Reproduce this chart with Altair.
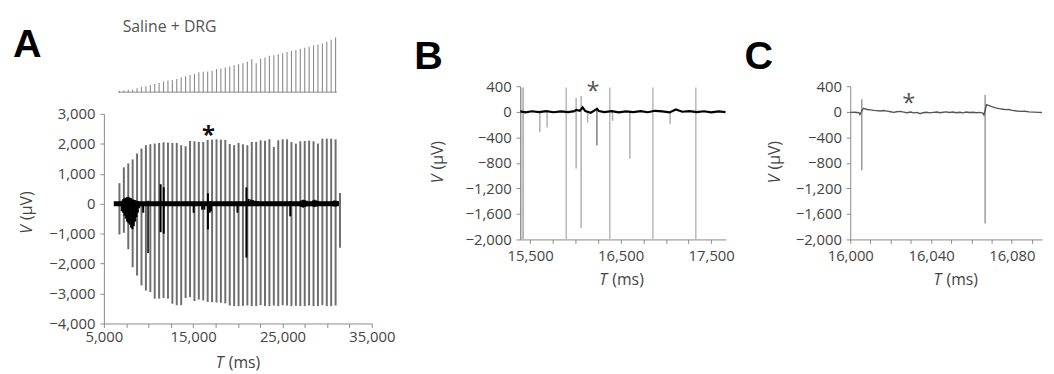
import altair as alt
import pandas as pd

FONT = "Open Sans"
LBL = "#444444"

# ---------------- Panel A : full recording ----------------
A_T = [6740, 7235, 7730, 8220, 8715, 9210, 9705, 10200, 10690, 11185,
       11680, 12175, 12670, 13160, 13655, 14150, 14645, 15140, 15630, 16125,
       16620, 17115, 17610, 18100, 18595, 19090, 19585, 20080, 20570, 21065,
       21560, 22055, 22550, 23040, 23535, 24030, 24525, 25020, 25510, 26005,
       26500, 26995, 27490, 27980, 28475, 28970, 29465, 29960, 30450, 30945,
       31440]
A_TOP = [686, 1215, 1347, 1479, 1678, 1843, 1953, 1986, 2008, 2030,
         2052, 2041, 2030, 2030, 1953, 1920, 2096, 2085, 2063, 2063,
         2129, 2140, 2151, 2140, 2129, 1997, 1953, 2030, 1986, 1953,
         2063, 2063, 2118, 2107, 2151, 1898, 2118, 2151, 2151, 2063,
         2008, 2085, 2096, 2107, 2085, 2008, 2173, 2173, 2173, 2151,
         355]
A_BOT = [-1030, -970, -1520, -2120, -2400, -2730, -2900, -2950, -3170, -3170,
         -3150, -3170, -3340, -3390, -3390, -3150, -3120, -3250, -3200, -3230,
         -3280, -3290, -3300, -3310, -3330, -3400, -3420, -3420, -3410, -3400,
         -3420, -3420, -3390, -3420, -3420, -3400, -3420, -3390, -3400, -3420,
         -3410, -3420, -3420, -3400, -3420, -3420, -3390, -3420, -3420, -3400,
         -1470]
# stimulus strip heights (first 50 pulses)
A_STIM = [1.3, 1.7, 2.3, 2.7, 4.0, 5.3, 6.0, 7.3, 8.3, 9.3,
          10.7, 11.7, 12.3, 13.3, 15.0, 16.0, 17.3, 18.3, 20.0, 20.7,
          21.0, 21.7, 23.3, 24.0, 25.0, 26.0, 27.3, 28.3, 29.3, 30.7,
          33.3, 29.3, 34.0, 35.0, 36.7, 37.3, 38.3, 39.3, 40.7, 41.7,
          42.7, 44.0, 45.0, 46.0, 47.3, 48.3, 49.3, 51.0, 53.0, 55.3]
A_STIM_SPAN = [6600, 31100]
A_TRACE_SPAN = [6110, 31310]
A_BURST_T = [7000, 7150, 7300, 7450, 7600, 7750, 7900, 8050, 8200, 8350, 8500, 8650, 8800, 8950,
             9400, 11350, 11700, 15050, 16000, 16250, 16650, 16850, 17000, 19960, 20960,
             21200, 21450, 21700, 21950, 22200, 25870, 27100, 27300, 27500, 27700,
             28400, 28600, 28800, 29000, 30600, 30800, 31000, 31200]
A_BURST_TOP = [100, 150, 180, 200, 220, 230, 200, 180, 150, 130, 120, 100, 80, 60,
               50, 650, 550, 50, 40, 40, 350, 80, 60, 50, 546,
               160, 140, 120, 100, 90, 80, 110, 130, 120, 100,
               110, 130, 110, 90, 90, 110, 100, 80]
A_BURST_BOT = [-250, -300, -400, -500, -600, -650, -700, -800, -850, -750, -600, -450, -300, -150,
               -300, -950, -1000, -300, -200, -200, -860, -300, -250, -300, -1800,
               -80, -60, -60, -50, -40, -420, -110, -130, -110, -90,
               -90, -110, -90, -80, -80, -90, -90, -70]
A_DARK_T = [9950]
A_DARK_TOP = [100]
A_DARK_BOT = [-1650]
A_STAR_T = [16714]
A_STAR_V = [2449]
A_XTICKS = [5000, 7500, 10000, 12500, 15000, 17500, 20000, 22500, 25000, 27500, 30000, 32500, 35000]
A_YTICKS = [-4000, -3000, -2000, -1000, 0, 1000, 2000, 3000]

# ---------------- Panel B : 15.4-17.7 s ----------------
B_FULL_T = [15412, 15426, 15900, 16380, 16856, 17330]
B_FULL_TOP = [380, 380, 380, 380, 380, 380]
B_FULL_BOT = [-2000, -2000, -2000, -2000, -2000, -2000]
B_SPIKE_T = [15608, 15688, 16009, 16064, 16136, 16410, 16602, 17046]
B_SPIKE_TOP = [0, 0, 219, 245, 0, 0, 0, 0]
B_SPIKE_BOT = [-323, -245, -890, -1820, -168, -142, -735, -190]
B_DARK_T = [16238]
B_DARK_TOP = [65]
B_DARK_BOT = [-530]
B_TR_T = [15392, 15450, 15520, 15600, 15680, 15760, 15840, 15920, 15990, 16010,
          16050, 16080, 16110, 16170, 16240, 16260, 16320, 16400, 16480, 16560,
          16640, 16720, 16800, 16880, 16960, 17040, 17110, 17180, 17260, 17340,
          17420, 17500, 17580, 17658]
B_TR_V = [5, -10, 8, -5, 10, -8, 5, -5, 10, 30,
          15, 70, 10, -15, 45, 10, -5, 10, -10, 5,
          -5, 10, -8, 15, 5, -10, 35, 0, 10, -5,
          8, -10, 5, -5]
B_STAR_T = [16195]
B_STAR_V = [400]
B_XTICKS = [15500, 15750, 16000, 16250, 16500, 16750, 17000, 17250, 17500]
BC_YTICKS = [-2000, -1600, -1200, -800, -400, 0, 400]

# ---------------- Panel C : 16.000-16.095 s ----------------
C_TR_T = [16000, 16002, 16004.3, 16004.8, 16006.5, 16008.4, 16010, 16011.7, 16013, 16015,
          16016.5, 16018.2, 16020, 16021.5, 16023, 16024.8, 16026.5, 16028, 16030, 16031.3,
          16033, 16034.6, 16036, 16037.8, 16039.5, 16041.1, 16043, 16044.4, 16046, 16047.6,
          16049, 16050.9, 16052.5, 16054.2, 16056, 16057.4, 16059, 16060.7, 16062.5, 16064,
          16065.6, 16066.2, 16067.5, 16068.5, 16070.5, 16072, 16073.8, 16075.5, 16077, 16078.5,
          16080.3, 16082.5, 16084.4, 16086.5, 16088.5, 16091, 16093.4, 16095]
C_TR_V = [-10, -8, -15, -45, 55, 35, 30, 22, 18, 12,
          20, 10, 0, -10, 0, 5, -5, -15, -5, -18,
          -10, -30, -15, -8, -18, -10, -5, -15, -8, -2,
          -12, -5, -15, -8, -18, -5, -12, -8, -15, -10,
          -20, -50, 110, 100, 75, 60, 48, 40, 33, 35,
          22, 12, 5, 8, -2, -5, -10, -12]
C_SPIKE_T = [16005.7, 16066.8]
C_SPIKE_TOP = [194, 261]
C_SPIKE_BOT = [-916, -1752]
C_STAR_T = [16029]
C_STAR_V = [220]
C_XTICKS = [16000, 16010, 16020, 16030, 16040, 16050, 16060, 16070, 16080, 16090]


# ---------------- helpers ----------------
def note(text, x, y, size=16, color=LBL, weight="normal", style="normal",
         angle=0, align="left", baseline="alphabetic", font=FONT):
    return alt.Chart(alt.Data(values=[{}])).mark_text(
        text=text, font=font, fontSize=size, color=color, fontWeight=weight,
        fontStyle=style, angle=angle, align=align, baseline=baseline
    ).encode(x=alt.value(x), y=alt.value(y))


def ytitle(xc, yc, size=16):
    wv, gap = 0.6 * size, 0.27 * size
    total = wv + gap + 1.78 * size
    y0 = yc + total / 2
    return [note("V", xc, y0, size, style="italic", angle=270, baseline="middle"),
            note("(μV)", xc, y0 - wv - gap, size, angle=270, baseline="middle")]


def xtitle(xc, yb, size=16):
    wt, gap = 0.55 * size, 0.27 * size
    total = wt + gap + 2.03 * size
    x0 = xc - total / 2
    return [note("T", x0, yb, size, style="italic"),
            note("(ms)", x0 + wt + gap, yb, size)]


def xaxis(values, expr, pad=2):
    return alt.Axis(values=values, labelExpr=expr, title=None, labelFlush=False,
                    labelOverlap=False, labelPadding=pad, tickSize=4)


def yaxis(values, pad=5):
    return alt.Axis(values=values, format=",.0f", title=None, labelPadding=pad,
                    tickSize=4, labelOverlap=False)


# ---------------- Panel A ----------------
axA_x = xaxis(A_XTICKS, "datum.value % 10000 == 5000 ? format(datum.value, ',') : ''", 2)
axA_y = yaxis(A_YTICKS)
scA_x = alt.Scale(domain=[5000, 35000], range=[0, 271], nice=False, zero=False)
scA_y = alt.Scale(domain=[-4000, 3000], range=[290, 78], nice=False, zero=False)


def xA(f):
    return alt.X(f"{f}:Q", scale=scA_x, axis=axA_x)


def yA(f):
    return alt.Y(f"{f}:Q", scale=scA_y, axis=axA_y)


dfA = pd.DataFrame({"t": A_T, "top": A_TOP, "bot": A_BOT})
dfA_b = pd.DataFrame({"t": A_BURST_T, "top": A_BURST_TOP, "bot": A_BURST_BOT})
dfA_d = pd.DataFrame({"t": A_DARK_T, "top": A_DARK_TOP, "bot": A_DARK_BOT})
dfA_base = pd.DataFrame({"t": [A_TRACE_SPAN[0]], "t2": [A_TRACE_SPAN[1]], "v": [0]})
dfA_star = pd.DataFrame({"t": A_STAR_T, "v": A_STAR_V})
dfA_stim = pd.DataFrame({"t": A_T[:50], "h": A_STIM})
dfA_stim_base = pd.DataFrame({"t": [A_STIM_SPAN[0]], "t2": [A_STIM_SPAN[1]], "h": [0]})

barsA = alt.Chart(dfA).mark_rule(color="#6e6e6e", strokeWidth=2).encode(
    x=xA("t"), y=yA("top"), y2="bot")
baseA = alt.Chart(dfA_base).mark_rule(color="#000000", strokeWidth=5).encode(
    x=xA("t"), x2="t2", y=yA("v"))
darkA = alt.Chart(dfA_d).mark_rule(color="#333333", strokeWidth=2).encode(
    x=xA("t"), y=yA("top"), y2="bot")
burstA = alt.Chart(dfA_b).mark_rule(color="#000000", strokeWidth=2).encode(
    x=xA("t"), y=yA("top"), y2="bot")
starA = alt.Chart(dfA_star).mark_text(text="*", font=FONT, fontSize=24, fontWeight="bold",
                                      color="#111111", baseline="middle", dy=6).encode(
    x=xA("t"), y=yA("v"))
mainA = alt.layer(barsA, darkA, baseA, burstA, starA)

scS_y = alt.Scale(domain=[0, 56], range=[56, 0], nice=False, zero=False)
stimA = alt.Chart(dfA_stim).mark_rule(color="#8a8a8a", strokeWidth=1.1).encode(
    x=xA("t"), y=alt.Y("h:Q", scale=scS_y, axis=None), y2=alt.datum(0))
stimBase = alt.Chart(dfA_stim_base).mark_rule(color="#8a8a8a", strokeWidth=1).encode(
    x=xA("t"), x2="t2", y=alt.Y("h:Q", scale=scS_y, axis=None))
stripA = alt.layer(stimA, stimBase)

panelA = alt.layer(
    mainA, stripA,
    note("A", -92, 20, 40, color="#000000", weight="bold", font="Liberation Sans"),
    note("Saline + DRG", 19, -5, 16, color="#555555"),
    *ytitle(-78, 178), *xtitle(136, 335)
).resolve_scale(y="independent").properties(width=295, height=290)

# ---------------- Panel B ----------------
axB_x = xaxis(B_XTICKS, "(datum.value - 15500) % 1000 == 0 ? format(datum.value, ',') : ''", 5)
axB_y = yaxis(BC_YTICKS)
scB_x = alt.Scale(domain=[15390, 17660], nice=False, zero=False)
scB_y = alt.Scale(domain=[-2000, 400], range=[205, 50], nice=False, zero=False)


def xB(f):
    return alt.X(f"{f}:Q", scale=scB_x, axis=axB_x)


def yB(f):
    return alt.Y(f"{f}:Q", scale=scB_y, axis=axB_y)


dfB_full = pd.DataFrame({"t": B_FULL_T, "top": B_FULL_TOP, "bot": B_FULL_BOT})
dfB_sp = pd.DataFrame({"t": B_SPIKE_T, "top": B_SPIKE_TOP, "bot": B_SPIKE_BOT})
dfB_dk = pd.DataFrame({"t": B_DARK_T, "top": B_DARK_TOP, "bot": B_DARK_BOT})
dfB_tr = pd.DataFrame({"t": B_TR_T, "v": B_TR_V})
dfB_star = pd.DataFrame({"t": B_STAR_T, "v": B_STAR_V})

panelB = alt.layer(
    alt.Chart(dfB_full).mark_rule(color="#b8b8b8", strokeWidth=1.5).encode(
        x=xB("t"), y=yB("top"), y2="bot"),
    alt.Chart(dfB_sp).mark_rule(color="#b0b0b0", strokeWidth=1.5).encode(
        x=xB("t"), y=yB("top"), y2="bot"),
    alt.Chart(dfB_dk).mark_rule(color="#808080", strokeWidth=1.5).encode(
        x=xB("t"), y=yB("top"), y2="bot"),
    alt.Chart(dfB_tr).mark_line(color="#000000", strokeWidth=2.2).encode(
        x=xB("t"), y=yB("v")),
    alt.Chart(dfB_star).mark_text(text="*", font=FONT, fontSize=24, color="#555555",
                                  baseline="middle", dy=6).encode(x=xB("t"), y=yB("v")),
    note("B", -107, 33, 40, color="#000000", weight="bold", font="Liberation Sans"),
    *ytitle(-82.5, 127), *xtitle(103, 251)
).properties(width=208, height=205)

# ---------------- Panel C ----------------
axC_x = xaxis(C_XTICKS, "(datum.value - 16000) % 40 == 0 ? format(datum.value, ',') : ''", 5)
axC_y = yaxis(BC_YTICKS)
scC_x = alt.Scale(domain=[16000, 16095], nice=False, zero=False)
scC_y = alt.Scale(domain=[-2000, 400], range=[205, 50], nice=False, zero=False)


def xC(f):
    return alt.X(f"{f}:Q", scale=scC_x, axis=axC_x)


def yC(f):
    return alt.Y(f"{f}:Q", scale=scC_y, axis=axC_y)


dfC_tr = pd.DataFrame({"t": C_TR_T, "v": C_TR_V})
dfC_sp = pd.DataFrame({"t": C_SPIKE_T, "top": C_SPIKE_TOP, "bot": C_SPIKE_BOT})
dfC_star = pd.DataFrame({"t": C_STAR_T, "v": C_STAR_V})

panelC = alt.layer(
    alt.Chart(dfC_sp).mark_rule(color="#9a9a9a", strokeWidth=1.5).encode(
        x=xC("t"), y=yC("top"), y2="bot"),
    alt.Chart(dfC_tr).mark_line(color="#555555", strokeWidth=1.4).encode(
        x=xC("t"), y=yC("v")),
    alt.Chart(dfC_star).mark_text(text="*", font=FONT, fontSize=24, color="#555555",
                                  baseline="middle", dy=6).encode(x=xC("t"), y=yC("v")),
    note("C", -107, 33, 40, color="#000000", weight="bold", font="Liberation Sans"),
    *ytitle(-76.5, 127), *xtitle(107, 251)
).properties(width=194, height=205)

chart = alt.hconcat(panelA, panelB, panelC, spacing=126, bounds="flush").properties(
    padding={"left": 4, "top": 8, "right": 0, "bottom": 0}
).configure_view(stroke="transparent").configure_axis(
    labelFont=FONT, labelFontSize=15, labelColor=LBL, domainColor="#8a8a8a",
    tickColor="#8a8a8a", grid=False, domainWidth=1, tickWidth=1
)

chart.save("out.html", embed_options={"renderer": "svg", "actions": False})
